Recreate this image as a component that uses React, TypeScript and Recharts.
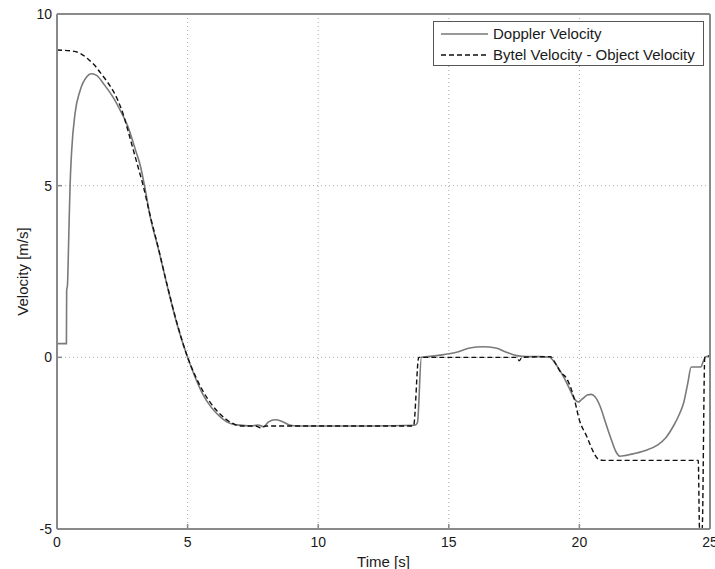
import React from "react";
import {
  LineChart,
  Line,
  XAxis,
  YAxis,
  CartesianGrid,
  Legend,
} from "recharts";

// [time s, velocity m/s]
const dopplerPoints: [number, number][] = [
  [0, 0.4], [0.36, 0.4], [0.37, 1.95], [0.4, 2.1], [0.45, 3.5], [0.5, 5.0],
  [0.56, 6.0], [0.69, 7.1], [0.88, 7.76], [1.14, 8.17], [1.3, 8.26], [1.5, 8.22],
  [1.8, 7.95], [2.15, 7.57], [2.45, 7.15], [2.7, 6.75], [3.0, 6.05], [3.2, 5.55],
  [3.35, 5.0], [3.56, 4.13], [3.9, 3.1], [4.2, 2.14], [4.6, 0.95], [5.0, 0.0],
  [5.3, -0.6], [5.6, -1.1], [5.9, -1.45], [6.2, -1.7], [6.5, -1.88], [6.8, -1.96],
  [7.1, -1.98], [7.4, -2.0], [7.7, -1.97], [7.9, -2.02], [8.1, -1.88], [8.35, -1.82],
  [8.6, -1.86], [8.9, -1.97], [9.2, -2.0], [12.0, -2.0], [13.7, -1.98], [13.8, -1.9],
  [13.95, 0.0], [14.2, 0.02], [14.8, 0.08], [15.3, 0.15], [15.8, 0.27], [16.3, 0.31],
  [16.8, 0.27], [17.2, 0.15], [17.6, 0.05], [18.0, 0.02], [18.5, 0.02], [18.85, 0.0],
  [19.05, -0.15], [19.25, -0.38], [19.45, -0.65], [19.65, -0.96], [19.8, -1.2],
  [19.95, -1.3], [20.1, -1.22], [20.3, -1.1], [20.45, -1.08], [20.6, -1.15],
  [20.8, -1.44], [21.0, -1.9], [21.2, -2.35], [21.4, -2.75], [21.55, -2.88],
  [22.0, -2.82], [22.5, -2.72], [23.0, -2.55], [23.3, -2.35], [23.6, -2.0],
  [23.8, -1.7], [24.0, -1.3], [24.15, -0.75], [24.28, -0.28], [24.65, -0.28],
  [24.75, -0.1], [24.85, 0.02], [25, 0.02],
];

const bytelPoints: [number, number][] = [
  [0, 8.95], [0.5, 8.93], [0.9, 8.85], [1.2, 8.68], [1.45, 8.5], [1.65, 8.3],
  [1.9, 8.05], [2.15, 7.76], [2.35, 7.45], [2.53, 7.09], [2.7, 6.65], [2.9, 6.1],
  [3.1, 5.55], [3.3, 5.0], [3.56, 4.15], [3.9, 3.12], [4.2, 2.16], [4.6, 0.98],
  [5.0, 0.0], [5.3, -0.55], [5.6, -1.0], [5.9, -1.35], [6.2, -1.62], [6.5, -1.82],
  [6.8, -1.95], [7.1, -2.0], [7.6, -2.0], [7.8, -2.05], [8.0, -2.0], [9.0, -2.0],
  [13.65, -2.0], [13.85, 0.0], [17.6, 0.0], [17.7, -0.1], [17.8, 0.0], [18.9, 0.02],
  [19.1, -0.2], [19.3, -0.45], [19.5, -0.6], [19.65, -0.85], [19.8, -1.2],
  [20.0, -1.83], [20.28, -2.3], [20.5, -2.7], [20.7, -2.95], [20.9, -3.0],
  [24.55, -3.0], [24.6, -5.0], [24.7, -5.0], [24.8, 0.0], [25, 0.05],
];

const xTicks = [0, 5, 10, 15, 20, 25];
const yTicks = [-5, 0, 5, 10];

const dopplerData = dopplerPoints.map(([t, v]) => ({ t, v }));
const bytelData = bytelPoints.map(([t, v]) => ({ t, v }));

const font = '"Liberation Sans", Arial, sans-serif';
const frame = "#8a8a8a";
const tickStyle = { fontSize: 14, fill: "#1a1a1a", fontFamily: font };
const labelStyle = { fontSize: 15, fill: "#1a1a1a", fontFamily: font };

const renderLegend = () => (
  <div
    style={{
      width: 262,
      height: 42,
      border: "1px solid #555",
      background: "#fff",
      padding: "1px 0 0 7px",
      boxSizing: "content-box",
      fontFamily: font,
      fontSize: 15,
      color: "#1a1a1a",
      whiteSpace: "nowrap",
    }}
  >
    <div style={{ display: "flex", alignItems: "center", height: 21 }}>
      <svg width={47} height={4} style={{ marginRight: 5 }}>
        <line x1={0} y1={2} x2={47} y2={2} stroke="#777" strokeWidth={1.5} />
      </svg>
      Doppler Velocity
    </div>
    <div style={{ display: "flex", alignItems: "center", height: 21 }}>
      <svg width={47} height={4} style={{ marginRight: 5 }}>
        <line x1={0} y1={2} x2={47} y2={2} stroke="#111" strokeWidth={1.4} strokeDasharray="5 3" />
      </svg>
      Bytel Velocity - Object Velocity
    </div>
  </div>
);

const App = () => {
  return (
    <div style={{ position: "absolute", left: 0, top: 0, background: "#fff" }}>
      <LineChart
        width={715}
        height={569}
        margin={{ top: 0, right: 0, left: 0, bottom: 0 }}
      >
        <CartesianGrid stroke="#aaa" strokeDasharray="1 3" />
        <XAxis
          dataKey="t"
          type="number"
          domain={[0, 25]}
          ticks={xTicks}
          height={40}
          interval={0}
          tick={tickStyle}
          tickSize={-5}
          tickMargin={13.5}
          axisLine={{ stroke: frame, strokeWidth: 2 }}
          tickLine={{ stroke: frame, strokeWidth: 1.5 }}
          label={{
            value: "Time [s]",
            position: "insideBottom",
            offset: 2,
            style: labelStyle,
          }}
        />
        <XAxis
          xAxisId="top"
          orientation="top"
          dataKey="t"
          type="number"
          domain={[0, 25]}
          ticks={xTicks}
          height={14}
          tick={false}
          tickSize={-5}
          axisLine={{ stroke: frame, strokeWidth: 2 }}
          tickLine={{ stroke: frame, strokeWidth: 1.5 }}
        />
        <YAxis
          type="number"
          domain={[-5, 10]}
          ticks={yTicks}
          width={57}
          interval={0}
          tick={tickStyle}
          tickSize={-5}
          tickMargin={10}
          axisLine={{ stroke: frame, strokeWidth: 2 }}
          tickLine={{ stroke: frame, strokeWidth: 1.5 }}
          label={{
            value: "Velocity [m/s]",
            angle: -90,
            position: "insideLeft",
            offset: 23,
            style: { ...labelStyle, textAnchor: "middle" },
          }}
        />
        <YAxis
          yAxisId="right"
          orientation="right"
          type="number"
          domain={[-5, 10]}
          ticks={yTicks}
          width={5}
          tick={false}
          tickSize={-5}
          axisLine={{ stroke: frame, strokeWidth: 2 }}
          tickLine={{ stroke: frame, strokeWidth: 1.5 }}
        />
        <Legend
          layout="vertical"
          align="center"
          verticalAlign="middle"
          content={renderLegend}
          wrapperStyle={{ left: 433, top: 21, width: 271 }}
        />
        <Line
          data={dopplerData}
          dataKey="v"
          name="Doppler Velocity"
          type="monotoneX"
          stroke="#7a7a7a"
          strokeWidth={1.6}
          dot={false}
          isAnimationActive={false}
        />
        <Line
          data={bytelData}
          dataKey="v"
          name="Bytel Velocity - Object Velocity"
          type="monotoneX"
          stroke="#111"
          strokeWidth={1.4}
          strokeDasharray="5 3"
          dot={false}
          isAnimationActive={false}
        />
      </LineChart>
    </div>
  );
};

export default App;
